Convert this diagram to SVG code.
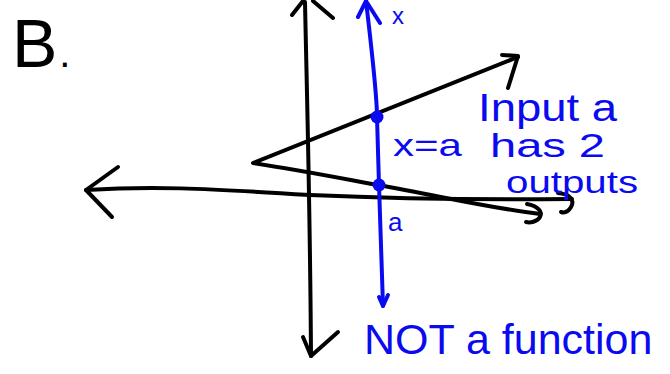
<svg xmlns="http://www.w3.org/2000/svg" width="670" height="374" viewBox="0 0 670 374">
<style>
.k{fill:none;stroke:#000;stroke-width:4;stroke-linecap:round;stroke-linejoin:round}
.b{fill:none;stroke:#0a0af0;stroke-width:4;stroke-linecap:round;stroke-linejoin:round}
.bt{fill:#0a0af0;font-family:"Liberation Sans","DejaVu Sans",sans-serif}
.kt{fill:#000;font-family:"Liberation Sans","DejaVu Sans",sans-serif}
</style>
<rect width="670" height="374" fill="#fff"/>
<g id="label-B"><text class="kt" x="12" y="67" font-size="68">B<tspan font-size="40" dx="2">.</tspan></text></g>
<g id="connectors">
<path class="k" d="M305,2 C307,100 310,200 311,356"/>
<path class="k" d="M292,15 L303,1 M313,1 L333,18"/>
<path class="k" d="M303,337 L311,356 L338,332"/>
<path class="k" d="M86,190 C150,186 200,188 310,195 C400,199 480,200 572,199"/>
<path class="k" d="M118,167 L86,190 L112,217"/>
<path class="k" d="M558,193 C570,194 575,200 571,207 C568,212 564,213 561,212"/>
<path class="k" d="M518,57 L253,163 C300,170 340,178 378,185 C440,196 490,208 540,214"/>
<path class="k" d="M502,55 L518,56 L508,88"/>
<path class="k" d="M527,204 C538,206 543,212 540,217 C537,222 530,223 526,222"/>
<path class="b" d="M366,1 C373,60 377,100 377,117 L379,185 L383,306"/>
<path class="b" d="M358,17 L366,1 L380,23"/>
<path class="b" d="M379,297 L383,306 L388,295"/>
</g>
<g id="points">
<circle cx="377" cy="117" r="6.5" fill="#0a0af0"/>
<circle cx="379" cy="185" r="6.5" fill="#0a0af0"/>
</g>
<g id="labels">
<text class="bt" x="392" y="24" font-size="24">x</text>
<text class="bt" x="393" y="156" font-size="32" textLength="69" lengthAdjust="spacingAndGlyphs">x=a</text>
<text class="bt" x="388" y="231" font-size="26">a</text>
<text class="bt" x="478" y="121" font-size="38" textLength="139" lengthAdjust="spacingAndGlyphs">Input a</text>
<text class="bt" x="490" y="157" font-size="34" textLength="115" lengthAdjust="spacingAndGlyphs">has 2</text>
<text class="bt" x="506" y="193" font-size="32" textLength="132" lengthAdjust="spacingAndGlyphs">outputs</text>
<text class="bt" x="364" y="354" font-size="43">NOT a function</text>
</g>
</svg>
